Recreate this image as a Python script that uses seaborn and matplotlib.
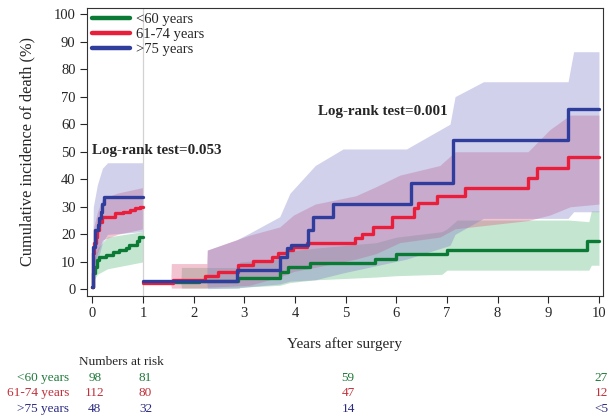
import numpy as np
import pandas as pd
import matplotlib.pyplot as plt
import seaborn as sns
from matplotlib.lines import Line2D
import matplotlib.transforms as mtransforms

sns.set_style("ticks")
plt.rcParams['font.family'] = ['Liberation Serif', 'DejaVu Serif']

groups = ["<60 years", "61-74 years", ">75 years"]
line_cols = {"<60 years": "#0b7a35", "61-74 years": "#e81e3a", ">75 years": "#2f3d9c"}
band_cols = {"<60 years": "#5cb87a", "61-74 years": "#dc5a82", ">75 years": "#8080c8"}
text_cols = {"<60 years": "#1f7a3a", "61-74 years": "#c0303a", ">75 years": "#2a2a80"}

# ---- first year (0-1) ----
green_t0 = [0, 0.02, 0.05, 0.09, 0.14, 0.27, 0.40, 0.53, 0.67, 0.73, 0.88, 0.93, 1.0]
green_c0 = [1, 5.8, 8.2, 10.6, 11.8, 12.5, 13.7, 14.3, 14.9, 16.1, 17.5, 19.1, 19.1]
red_t0 = [0, 0.02, 0.04, 0.07, 0.10, 0.14, 0.20, 0.45, 0.60, 0.75, 0.85, 0.95, 1.0]
red_c0 = [1, 13.1, 16.7, 19.1, 21.5, 24.6, 26.4, 27.6, 28.2, 28.8, 29.4, 30.0, 30.0]
blue_t0 = [0, 0.02, 0.06, 0.11, 0.14, 0.17, 0.20, 0.24, 1.0]
blue_c0 = [1, 15.5, 21.5, 23.4, 25.8, 28.2, 31.2, 33.6, 33.6]

green_bt0 = [0, 0.02, 0.10, 0.30, 1.0]
green_lo0 = [1, 3, 5.5, 7.5, 10]
green_hi0 = [1, 10, 15, 19, 21]
red_bt0 = [0, 0.02, 0.10, 0.20, 0.50, 1.0]
red_lo0 = [1, 7, 13, 18, 20, 22]
red_hi0 = [1, 22, 28, 33, 35, 37]
blue_bt0 = [0, 0.02, 0.10, 0.20, 0.30, 1.0]
blue_lo0 = [1, 5, 10, 17, 20, 21]
blue_hi0 = [1, 30, 38, 44, 46, 46]

# ---- landmark after 1 year (1-10) ----
green_t1 = [1.0, 2.10, 2.88, 3.70, 3.86, 4.30, 5.58, 6.00, 7.00, 9.76, 10.0]
green_c1 = [2.6, 3.0, 4.2, 6.4, 8.2, 9.7, 11.2, 12.8, 14.3, 17.7, 17.7]
red_t1 = [1.0, 1.60, 2.22, 2.49, 2.88, 3.18, 3.54, 3.67, 3.84, 3.97, 4.23, 5.18,
          5.32, 5.55, 5.91, 6.34, 6.43, 6.80, 7.36, 8.60, 8.77, 9.39, 10.0]
red_c1 = [2.4, 3.6, 4.8, 6.4, 8.8, 10.4, 11.8, 13.1, 14.5, 15.5, 16.7, 18.5,
          20.3, 22.7, 26.4, 29.4, 31.5, 33.8, 36.7, 40.3, 44.0, 48.0, 48.0]
blue_t1 = [1.0, 2.85, 3.70, 3.84, 3.93, 4.26, 4.36, 4.76, 6.30, 7.12, 9.39, 10.0]
blue_c1 = [3.1, 7.0, 11.8, 14.9, 16.1, 21.5, 26.4, 30.9, 38.6, 54.2, 65.5, 65.5]

green_bt1 = [1.0, 1.75, 1.76, 2.90, 2.91, 3.70, 3.90, 4.40, 5.60, 6.00, 6.90, 7.00, 7.20, 9.40, 9.80, 9.85, 10.0]
green_lo1 = [2.3, 2.3, 0.5, 0.5, 0.8, 1.5, 2.5, 3.5, 4.5, 5.0, 5.5, 7.0, 7.0, 7.0, 7.0, 8.8, 8.8]
green_hi1 = [2.9, 2.9, 8.0, 8.0, 10.0, 11.0, 14.0, 15.0, 17.0, 19.0, 21.0, 22.0, 25.2, 25.2, 24.6, 28.5, 28.5]
red_bt1 = [1.0, 1.55, 1.56, 2.26, 2.27, 3.10, 3.70, 3.97, 4.40, 5.20, 5.60, 6.07, 6.86, 7.16, 8.60, 9.03, 9.43, 10.0]
red_lo1 = [2.1, 2.1, 0.5, 0.5, 0.8, 1.5, 4.5, 6.5, 8.0, 11.0, 13.0, 17.0, 19.0, 22.0, 25.0, 27.0, 30.0, 31.0]
red_hi1 = [2.8, 2.8, 9.4, 9.4, 14.3, 19.7, 22.7, 27.0, 31.0, 34.0, 37.3, 41.5, 45.0, 50.0, 50.0, 58.0, 63.3, 63.3]
blue_bt1 = [1.0, 2.26, 2.27, 2.85, 3.10, 3.70, 3.90, 4.40, 4.95, 6.20, 7.06, 7.16, 7.72, 9.39, 9.50, 10.0]
blue_lo1 = [2.7, 2.7, 0.3, 0.5, 1.0, 2.0, 3.0, 3.5, 6.0, 11.0, 16.0, 20.0, 25.8, 25.8, 28.2, 28.2]
blue_hi1 = [3.5, 3.5, 14.3, 18.0, 20.4, 26.4, 34.9, 45.0, 51.0, 51.0, 60.0, 70.0, 75.4, 75.4, 86.3, 86.3]

# numbers at risk
risk_years = [0, 1, 5, 10]
risk_green = ["98", "81", "59", "27"]
risk_red = ["112", "80", "47", "12"]
risk_blue = ["48", "32", "14", "<5"]

# ---- build tables ----
curves = [("<60 years", 0, green_t0, green_c0), ("<60 years", 1, green_t1, green_c1),
          ("61-74 years", 0, red_t0, red_c0), ("61-74 years", 1, red_t1, red_c1),
          (">75 years", 0, blue_t0, blue_c0), (">75 years", 1, blue_t1, blue_c1)]
frames = []
for g, seg, t, c in curves:
    frames.append(pd.DataFrame({"years": t, "cif": c, "group": g, "segment": f"{g}_{seg}"}))
df = pd.concat(frames, ignore_index=True)

bands = [("<60 years", green_bt0, green_lo0, green_hi0), ("<60 years", green_bt1, green_lo1, green_hi1),
         ("61-74 years", red_bt0, red_lo0, red_hi0), ("61-74 years", red_bt1, red_lo1, red_hi1),
         (">75 years", blue_bt0, blue_lo0, blue_hi0), (">75 years", blue_bt1, blue_lo1, blue_hi1)]

fig = plt.figure(figsize=(6.15, 4.17), dpi=100)
ax = fig.add_axes([0.141, 0.290, 0.8395, 0.691])

for g, t, lo, hi in bands:
    ax.fill_between(t, lo, hi, color=band_cols[g], alpha=0.36, lw=0)

ax.axvline(1, color="#d2d2d2", lw=0.9, zorder=1)

sns.lineplot(data=df, x="years", y="cif", hue="group", units="segment", estimator=None,
             hue_order=groups, palette=line_cols, drawstyle="steps-post", linewidth=2.4,
             legend=False, sort=False, ax=ax)

ax.set_xlim(-0.11, 10.08)
ax.set_ylim(-2.4, 102.2)
ax.set_xticks(range(0, 11))
ax.set_yticks(range(0, 101, 10))
ax.tick_params(axis="both", labelsize=10.5, length=5, width=0.8, direction="out", pad=3)
for s in ax.spines.values():
    s.set_linewidth(0.8)
    s.set_color("#333333")
ax.set_xlabel("Years after surgery", fontsize=11, labelpad=12)
ax.set_ylabel("Cumulative incidence of death (%)", fontsize=11.8, labelpad=13)

handles = [Line2D([0], [0], color=line_cols[g], lw=3.2) for g in groups]
ax.legend(handles, groups, loc="upper left", bbox_to_anchor=(0, 1), borderaxespad=0,
          borderpad=0.35, frameon=False, fontsize=10.5, handlelength=2.6,
          handletextpad=0.4, labelspacing=0.12)

ax.text(0.0, 50.4, "Log-rank test=0.053", fontsize=10.8, fontweight="bold", va="center", ha="left")
ax.text(4.45, 64.5, "Log-rank test=0.001", fontsize=10.8, fontweight="bold", va="center", ha="left")

# risk table
fig.text(79 / 615, 1 - 362 / 417, "Numbers at risk", fontsize=9.5, va="center", ha="left")
trans = mtransforms.blended_transform_factory(ax.transData, fig.transFigure)
row_y = [1 - 378 / 417, 1 - 393 / 417, 1 - 409 / 417]
for g, vals, y in zip(groups, [risk_green, risk_red, risk_blue], row_y):
    fig.text(69 / 615, y, g, fontsize=9.5, va="center", ha="right", color=text_cols[g])
    for xv, v in zip(risk_years, vals):
        ax.text(xv + 0.05, y, v, transform=trans, fontsize=9.5, va="center", ha="center",
                color=text_cols[g], clip_on=False)

plt.savefig("out.png", dpi=100)
